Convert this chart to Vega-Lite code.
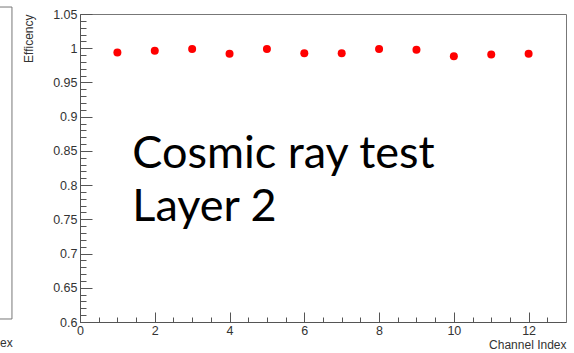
{
  "$schema": "https://vega.github.io/schema/vega-lite/v6.json",
  "autosize": "none",
  "width": 486,
  "height": 308,
  "padding": {"left": 80, "top": 14, "right": 8, "bottom": 31},
  "background": "white",
  "config": {
    "view": {"stroke": "#777", "strokeWidth": 1},
    "font": "Liberation Sans",
    "axis": {
      "grid": false,
      "domainColor": "#555",
      "tickColor": "#555",
      "labelColor": "#333",
      "titleColor": "#333",
      "labelFont": "Liberation Sans",
      "titleFont": "Liberation Sans",
      "labelFontSize": 12.5,
      "titleFontSize": 12,
      "titleFontWeight": "normal"
    }
  },
  "datasets": {
    "eff": [
      {"channel": 1, "efficiency": 0.9937},
      {"channel": 2, "efficiency": 0.9962},
      {"channel": 3, "efficiency": 0.9987},
      {"channel": 4, "efficiency": 0.9918},
      {"channel": 5, "efficiency": 0.9987},
      {"channel": 6, "efficiency": 0.9928},
      {"channel": 7, "efficiency": 0.9928},
      {"channel": 8, "efficiency": 0.9987},
      {"channel": 9, "efficiency": 0.9977},
      {"channel": 10, "efficiency": 0.9884},
      {"channel": 11, "efficiency": 0.9908},
      {"channel": 12, "efficiency": 0.9918}
    ],
    "note": [{"label": "Cosmic ray test\nLayer 2"}],
    "neighbour": [{"label": "ex"}]
  },
  "resolve": {"axis": {"x": "independent", "y": "independent"}},
  "layer": [
    {
      "data": {"name": "eff"},
      "mark": {"type": "point", "filled": true, "shape": "circle", "size": 64, "color": "#ff0000", "opacity": 1},
      "encoding": {
        "x": {
          "field": "channel", "type": "quantitative",
          "scale": {"domain": [0, 13], "nice": false, "zero": false},
          "axis": {
            "orient": "bottom",
            "values": [0, 2, 4, 6, 8, 10, 12],
            "tickSize": -10,
            "labelPadding": 12,
            "labelFlush": false,
            "title": "Channel Index",
            "titleAnchor": "end",
            "titlePadding": 3
          }
        },
        "y": {
          "field": "efficiency", "type": "quantitative",
          "scale": {"domain": [0.6, 1.05], "nice": false, "zero": false},
          "axis": {
            "orient": "left",
            "values": [0.6, 0.65, 0.7, 0.75, 0.8, 0.85, 0.9, 0.95, 1, 1.05],
            "labelExpr": "format(datum.value, '.2~f')",
            "tickSize": -12,
            "labelPadding": 15,
            "labelFlush": false,
            "title": "Efficency",
            "titleAnchor": "end",
            "titlePadding": 17
          }
        }
      }
    },
    {
      "data": {"name": "note"},
      "mark": {"type": "text", "align": "left", "baseline": "alphabetic", "font": "Lato", "fontSize": 45, "lineHeight": 53, "lineBreak": "\n", "color": "#000"},
      "encoding": {
        "text": {"field": "label"},
        "x": {
          "datum": 1.4, "type": "quantitative",
          "axis": {
            "orient": "bottom",
            "values": [0.5, 1, 1.5, 2.5, 3, 3.5, 4.5, 5, 5.5, 6.5, 7, 7.5, 8.5, 9, 9.5, 10.5, 11, 11.5, 12.5],
            "tickSize": -5,
            "labels": false,
            "domain": false,
            "title": null
          }
        },
        "y": {
          "datum": 0.8257, "type": "quantitative",
          "axis": {
            "orient": "left",
            "values": [0.61, 0.62, 0.63, 0.64, 0.66, 0.67, 0.68, 0.69, 0.71, 0.72, 0.73, 0.74, 0.76, 0.77, 0.78, 0.79, 0.81, 0.82, 0.83, 0.84, 0.86, 0.87, 0.88, 0.89, 0.91, 0.92, 0.93, 0.94, 0.96, 0.97, 0.98, 0.99, 1.01, 1.02, 1.03, 1.04],
            "tickSize": -6,
            "labels": false,
            "domain": false,
            "title": null
          }
        }
      }
    },
    {
      "data": {"name": "neighbour"},
      "mark": {"type": "rule", "color": "#777", "strokeWidth": 1, "clip": false},
      "encoding": {
        "x": {"datum": -1.82, "type": "quantitative", "axis": null},
        "y": {"datum": 0.6044, "type": "quantitative", "axis": null},
        "y2": {"datum": 1.0602}
      }
    },
    {
      "data": {"name": "neighbour"},
      "mark": {"type": "rule", "color": "#777", "strokeWidth": 1, "clip": false},
      "encoding": {
        "x": {"datum": -2.2, "type": "quantitative", "axis": null},
        "x2": {"datum": -1.82},
        "y": {"datum": 1.0602, "type": "quantitative", "axis": null}
      }
    },
    {
      "data": {"name": "neighbour"},
      "mark": {"type": "rule", "color": "#777", "strokeWidth": 1, "clip": false},
      "encoding": {
        "x": {"datum": -2.2, "type": "quantitative", "axis": null},
        "x2": {"datum": -1.82},
        "y": {"datum": 0.6044, "type": "quantitative", "axis": null}
      }
    },
    {
      "data": {"name": "neighbour"},
      "mark": {"type": "text", "align": "right", "baseline": "alphabetic", "font": "Liberation Sans", "fontSize": 12, "color": "#333", "clip": false},
      "encoding": {
        "text": {"field": "label"},
        "x": {"datum": -1.8, "type": "quantitative", "axis": null},
        "y": {"datum": 0.5635, "type": "quantitative", "axis": null}
      }
    }
  ]
}
